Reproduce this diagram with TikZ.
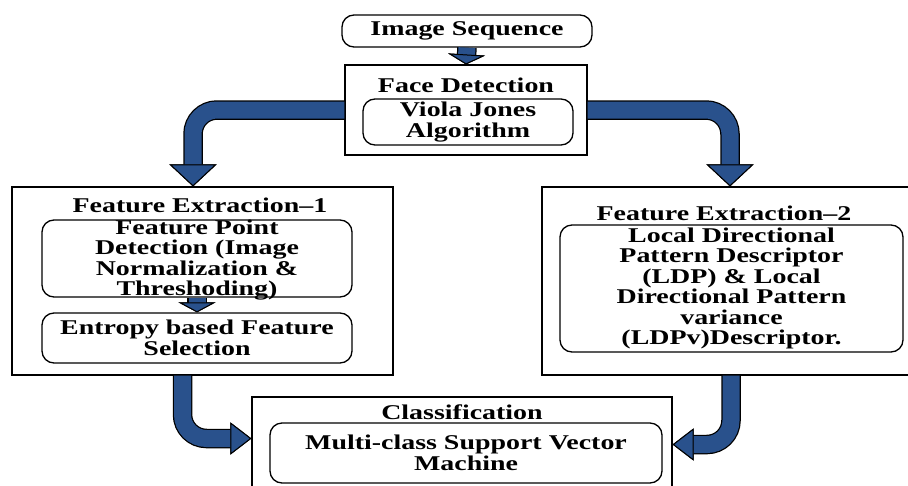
\documentclass[tikz,border=0pt]{standalone}
\usepackage{fontspec}
\setmainfont{Liberation Serif}[FakeStretch=1.33]
\usetikzlibrary{arrows.meta,positioning,calc}
\definecolor{flowblue}{HTML}{29518C}

\begin{document}
\begin{tikzpicture}[x=1pt,y=-1pt,
	every node/.style={font=\fontsize{21}{20.5}\selectfont\bfseries,align=center},
	frame/.style={draw,line width=1.1pt,inner sep=0pt},
	inbox/.style={draw,line width=1.3pt,rounded corners=12pt,inner sep=0pt},
	flow/.style={draw=flowblue,line width=17pt,rounded corners=24pt,preaction={draw=black,line width=19.5pt}},
	downtip/.style={-{Triangle[length=22pt,width=47pt,line width=1pt,color=black,fill=flowblue]}},
	sidetip/.style={-{Triangle[length=21pt,width=32pt,line width=1pt,color=black,fill=flowblue]}},
	shorttip/.style={-{Triangle[length=10pt,width=37pt,line width=1pt,color=black,fill=flowblue]}}]
\useasboundingbox (0,0) rectangle (908,485);
\clip (0,0) rectangle (908,485);
% outer frames
\node[frame,minimum width=242pt,minimum height=90pt] (face) at (466,110) {};
\node[frame,minimum width=381pt,minimum height=188pt] (fe1) at (202.5,281) {};
\node[frame,minimum width=373pt,minimum height=188pt] (fe2) at (728.5,281) {};
\node[frame,minimum width=420pt,minimum height=103pt] (cls) at (462,448.5) {};
% titles
\node (facet) at (466,85) {Face Detection};
\node (fe1t) at (200,205) {Feature Extraction--1};
\node (fe2t) at (724,213) {Feature Extraction--2};
\node (clst) at (462,412) {Classification};
% inner boxes
\node[inbox,minimum width=250pt,minimum height=32pt] (seq) at (467,31) {Image Sequence};
\node[inbox,minimum width=210pt,minimum height=46pt] (vj) at (468,122) {Viola Jones\\Algorithm};
\node[inbox,minimum width=310pt,minimum height=77pt] (fpd) at (197,258.5) {};
\node (fpdt) at (197,260) {Feature Point\\Detection (Image\\Normalization \&\\Threshoding)};
\node[inbox,minimum width=310pt,minimum height=50pt] (ent) at (197,338) {Entropy based Feature\\Selection};
\node[inbox,minimum width=343pt,minimum height=127pt] (ldp) at (731.5,288.5) {Local Directional\\Pattern Descriptor\\(LDP) \& Local\\Directional Pattern\\variance\\(LDPv)Descriptor.};
\node[inbox,minimum width=392pt,minimum height=60pt] (svm) at (466,453) {Multi-class Support Vector\\Machine};
% block arrows
\draw[flow,shorttip,rounded corners=0pt] (seq.south) -- (face.north);
\draw[flow,shorttip,rounded corners=0pt] (fpd.south) -- (ent.north);
\draw[flow,downtip] (face.west) -| ([xshift=-9.5pt]fe1.north);
\draw[flow,downtip] (face.east) -| ([xshift=1.5pt]fe2.north);
\draw[flow,sidetip] ([xshift=-20pt]fe1.south) |- ([yshift=10pt]cls.west);
\draw[flow,sidetip] ([xshift=2.5pt]fe2.south) |- ([yshift=4pt]cls.east);
\end{tikzpicture}
\end{document}
